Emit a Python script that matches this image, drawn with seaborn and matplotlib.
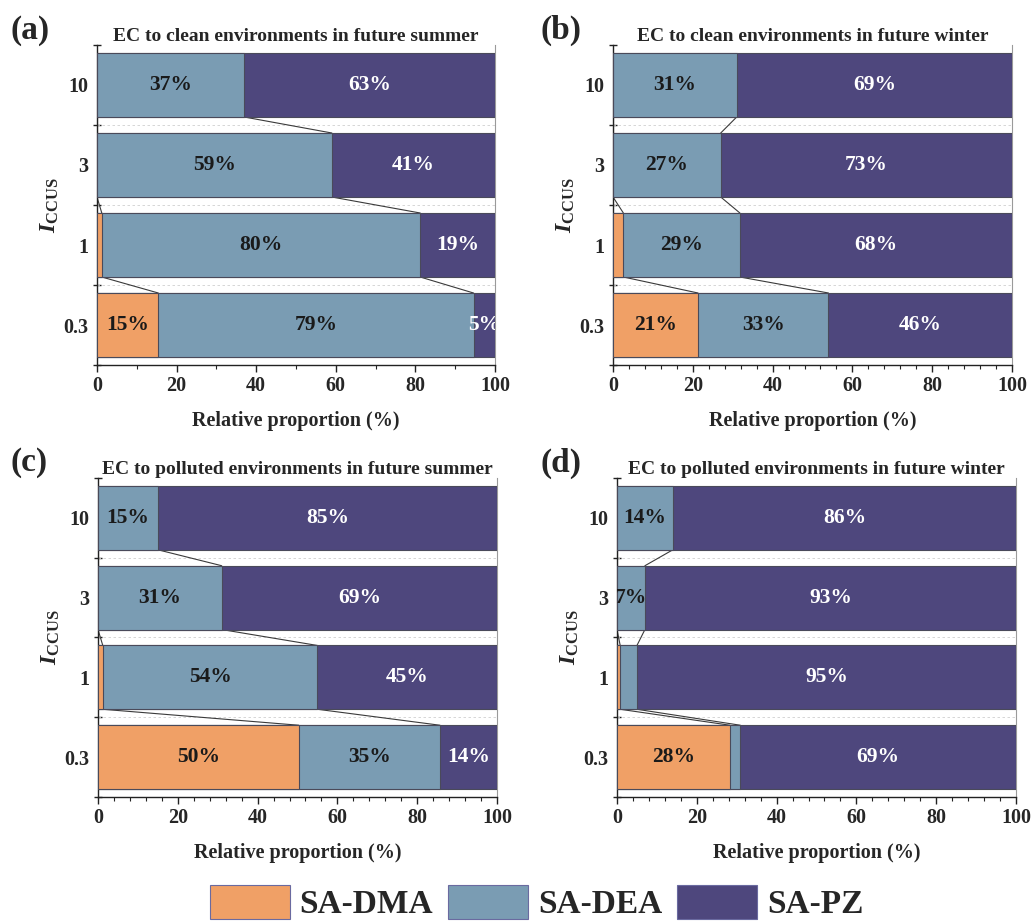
import matplotlib
matplotlib.use("Agg")
import matplotlib.pyplot as plt
from matplotlib.patches import Patch
from matplotlib.ticker import MultipleLocator, FixedLocator
import numpy as np
import pandas as pd
import seaborn as sns

# I_CCUS levels (top to bottom) and absorbent components
levels = ["10", "3", "1", "0.3"]
components = ["SA-DMA", "SA-DEA", "SA-PZ"]

# Relative proportion (%) of each component per level
a_dma = [0.0, 0.0, 1.2, 15.4]
a_dea = [37.0, 59.0, 80.0, 79.2]
a_pz = [63.0, 41.0, 18.8, 5.4]

b_dma = [0.0, 0.0, 2.6, 21.3]
b_dea = [31.0, 27.0, 29.2, 32.7]
b_pz = [69.0, 73.0, 68.2, 46.0]

c_dma = [0.0, 0.0, 1.2, 50.3]
c_dea = [15.0, 31.0, 53.8, 35.4]
c_pz = [85.0, 69.0, 45.0, 14.3]

d_dma = [0.0, 0.0, 0.8, 28.3]
d_dea = [14.0, 7.0, 4.2, 2.6]
d_pz = [86.0, 93.0, 95.0, 69.1]

panel_titles = [
    "EC to clean environments in future summer",
    "EC to clean environments in future winter",
    "EC to polluted environments in future summer",
    "EC to polluted environments in future winter",
]
panel_tags = ["(a)", "(b)", "(c)", "(d)"]

colors = {"SA-DMA": "#F0A066", "SA-DEA": "#7A9CB3", "SA-PZ": "#4E477D"}
text_colors = {"SA-DMA": "#1a1a1a", "SA-DEA": "#1a1a1a", "SA-PZ": "white"}
edge = "#4a4a5a"

sns.set_style("ticks")
plt.rcParams["font.family"] = ["Liberation Serif", "DejaVu Serif"]
plt.rcParams["font.weight"] = "bold"
plt.rcParams["mathtext.fontset"] = "custom"
plt.rcParams["mathtext.rm"] = "Liberation Serif:bold"
plt.rcParams["mathtext.it"] = "Liberation Serif:italic:bold"
plt.rcParams["axes.linewidth"] = 1.0

fig = plt.figure(figsize=(10.32, 9.22), dpi=100)

W, H = 1032.0, 922.0
boxes = [
    (97, 45, 398, 320),
    (613, 45, 399, 320),
    (98, 478, 399, 319),
    (617, 478, 399, 319),
]
tag_pos = [(10, 30), (540, 30), (10, 463), (540, 463)]
minor_steps = [10, 4, 4, 4]
datasets = [
    (a_dma, a_dea, a_pz),
    (b_dma, b_dea, b_pz),
    (c_dma, c_dea, c_pz),
    (d_dma, d_dea, d_pz),
]

bar_w = 0.8

for i, (vals, box) in enumerate(zip(datasets, boxes)):
    x0, y0, w, h = box
    ax = fig.add_axes([x0 / W, 1 - (y0 + h) / H, w / W, h / H])

    df = pd.DataFrame({"level": levels,
                       "SA-DMA": vals[0], "SA-DEA": vals[1], "SA-PZ": vals[2]})
    cum = df[components].cumsum(axis=1)

    # stacked bars: draw the cumulative totals from the outermost layer inward
    for comp in components[::-1]:
        sns.barplot(x=cum[comp].values, y=df["level"], order=levels,
                    orient="h", color=colors[comp], width=bar_w,
                    edgecolor=edge, linewidth=0.8, saturation=1,
                    errorbar=None, ax=ax, zorder=3)

    # connector lines between segment boundaries of neighbouring bars
    for k in range(len(levels) - 1):
        for comp in components[:2]:
            ax.plot([cum[comp].iloc[k], cum[comp].iloc[k + 1]],
                    [k + bar_w / 2, k + 1 - bar_w / 2],
                    color="#3a3a3a", lw=0.8, zorder=2)

    # percentage labels
    for k in range(len(levels)):
        left = 0.0
        for comp in components:
            v = df[comp].iloc[k]
            if v >= 5:
                ax.text(left + v / 2, k, f"{v:.0f}%", ha="center", va="center",
                        color=text_colors[comp], fontsize=15.5,
                        fontweight="bold", zorder=5, clip_on=True)
            left += v

    # dashed separators between levels
    for yb in [0.5, 1.5, 2.5]:
        ax.axhline(yb, color="#d0d0d0", lw=0.6, ls=(0, (3, 3)), zorder=1)

    ax.set_xlim(0, 100)
    ax.set_ylim(3.5, -0.5)
    ax.xaxis.set_major_locator(MultipleLocator(20))
    ax.xaxis.set_minor_locator(MultipleLocator(minor_steps[i]))
    ax.set_yticks(range(len(levels)))
    ax.set_yticklabels(levels)
    ax.yaxis.set_minor_locator(FixedLocator([-0.5, 0.5, 1.5, 2.5, 3.5]))
    ax.tick_params(axis="y", which="major", length=0, pad=6, labelsize=14.5)
    ax.tick_params(axis="y", which="minor", length=6, direction="inout",
                   width=1.0, color="#222")
    ax.tick_params(axis="x", which="major", length=5, direction="out",
                   width=1.0, labelsize=14.5, pad=3, color="#222")
    ax.tick_params(axis="x", which="minor", length=3, direction="out",
                   width=0.8, color="#222")

    for side in ["left", "bottom"]:
        ax.spines[side].set_color("#222")
    ax.spines["top"].set_visible(False)
    ax.spines["right"].set_visible(True)
    ax.spines["right"].set_color("#9a9a9a")
    ax.spines["right"].set_linewidth(0.8)

    ax.set_xlabel("Relative proportion (%)", fontsize=14.5, fontweight="bold",
                  labelpad=11)
    ax.set_ylabel(r"$\mathit{I}_{\mathrm{CCUS}}$", fontsize=17, labelpad=2)
    ax.set_title(panel_titles[i], fontsize=14, fontweight="bold", pad=3)

    tx, ty = tag_pos[i]
    fig.text(tx / W, 1 - ty / H, panel_tags[i], fontsize=24,
             fontweight="bold", ha="left", va="center")

handles = [Patch(facecolor=colors[c], edgecolor="#6a6aa0", linewidth=0.8)
           for c in components]
fig.legend(handles, components, loc="center", bbox_to_anchor=(0.52, 0.021),
           ncol=3, frameon=False, handlelength=2.4,
           handleheight=1.2, handletextpad=0.3, columnspacing=0.45,
           prop={"family": "Liberation Serif", "weight": "bold", "size": 24})

fig.savefig("out.png", dpi=100)
